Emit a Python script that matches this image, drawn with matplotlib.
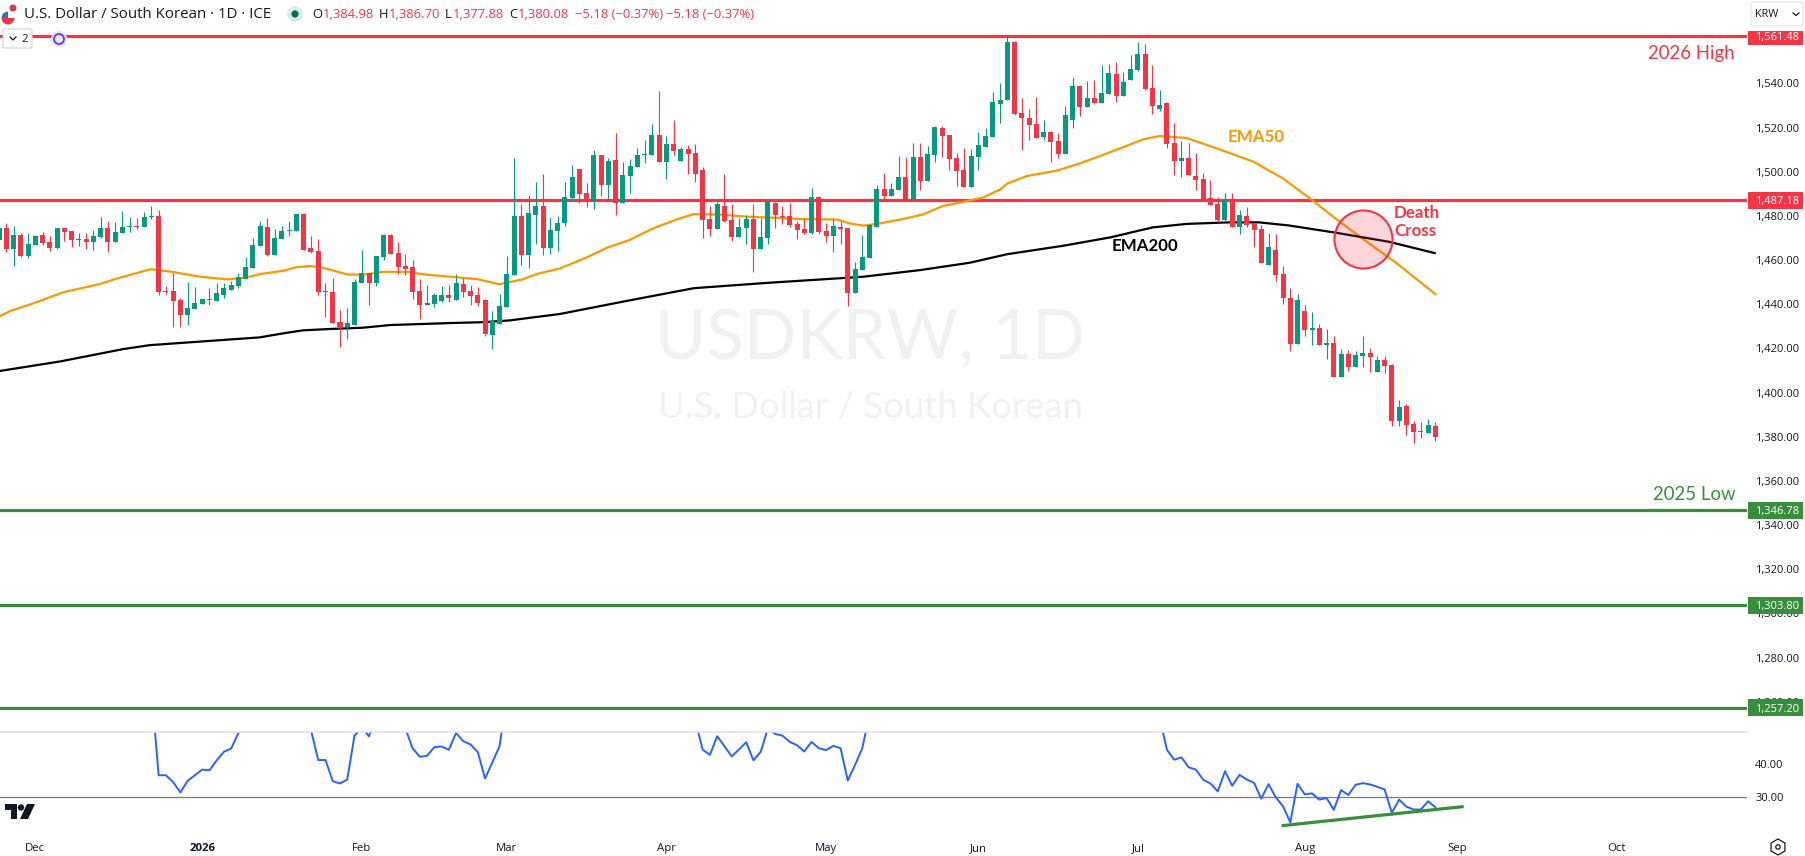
import numpy as np
import matplotlib
matplotlib.use('Agg')
import matplotlib.pyplot as plt
from matplotlib.patches import Circle, Rectangle, FancyBboxPatch, Polygon, Wedge

plt.rcParams['font.family'] = ['Open Sans', 'DejaVu Sans']

# Daily candles, one per session
opens = [1469.1,1474.7,1465.0,1471.3,1461.8,1466.8,1471.3,1468.2,1465.5,1474.5,
         1473.2,1469.1,1469.5,1468.2,1470.4,1474.5,1468.2,1472.2,1475.1,1475.4,
         1475.0,1479.5,1479.9,1446.0,1446.0,1441.9,1435.1,1437.8,1440.1,1442.3,
         1441.4,1444.2,1446.4,1448.2,1451.4,1456.4,1466.4,1475.0,1462.3,1469.5,
         1473.2,1473.2,1480.9,1465.5,1464.1,1446.0,1445.5,1431.9,1429.7,1430.6,
         1449.6,1454.1,1449.6,1461.4,1471.3,1463.2,1457.3,1456.8,1446.0,1439.6,
         1440.1,1441.4,1444.2,1441.9,1449.1,1446.0,1444.2,1441.9,1426.0,1431.0,
         1438.7,1453.2,1479.9,1462.3,1480.4,1484.5,1465.4,1473.2,1476.8,1488.1,
         1501.2,1490.4,1486.7,1507.6,1494.0,1505.3,1485.8,1498.1,1502.1,1507.6,
         1507.6,1516.6,1504.4,1512.5,1504.8,1510.3,1508.5,1500.8,1478.6,1474.1,
         1484.5,1478.1,1470.4,1474.5,1478.6,1465.0,1470.0,1485.8,1479.9,1479.9,
         1476.3,1474.1,1472.2,1488.5,1473.2,1470.9,1475.0,1474.5,1445.1,1455.5,
         1460.9,1474.9,1492.2,1489.0,1491.7,1497.6,1487.2,1506.7,1495.8,1507.6,
         1519.8,1516.6,1506.2,1500.8,1493.1,1506.7,1511.2,1515.7,1530.7,1532.5,
         1558.8,1526.6,1524.3,1521.6,1515.7,1518.0,1513.9,1508.0,1523.4,1538.8,
         1529.3,1533.4,1531.1,1535.2,1544.3,1534.3,1541.5,1546.1,1553.3,1537.9,
         1528.4,1531.1,1513.0,1504.8,1506.2,1498.1,1496.7,1488.1,1485.4,1478.1,
         1487.2,1475.0,1480.0,1476.8,1474.1,1457.8,1464.6,1453.7,1442.8,1422.0,
         1436.9,1428.3,1429.2,1421.5,1422.4,1407.0,1417.4,1411.5,1416.5,1417.9,
         1409.3,1414.7,1412.5,1387.1,1393.9,1385.7,1382.6,1381.7,1384.98]
highs = [1475.9,1476.8,1475.4,1472.4,1472.4,1471.3,1472.7,1470.9,1474.5,1474.5,
         1473.2,1472.2,1472.2,1473.6,1479.5,1477.7,1477.2,1482.2,1479.5,1479.0,
         1481.8,1484.5,1482.7,1448.2,1454.3,1442.8,1450.0,1447.8,1442.3,1447.3,
         1449.6,1449.6,1450.5,1454.1,1461.4,1470.0,1477.7,1479.0,1474.1,1475.4,
         1477.7,1480.9,1481.3,1470.9,1469.5,1449.6,1451.9,1437.4,1438.3,1451.4,
         1464.6,1454.1,1461.8,1471.8,1471.8,1468.2,1462.7,1460.0,1451.4,1448.7,
         1445.1,1448.2,1448.7,1453.7,1451.9,1448.7,1447.8,1442.4,1436.9,1444.6,
         1461.8,1506.2,1485.4,1489.5,1495.3,1499.0,1479.5,1479.9,1495.3,1503.0,
         1501.2,1494.9,1509.8,1507.6,1506.2,1517.5,1504.4,1505.8,1510.7,1514.4,
         1521.6,1536.6,1516.2,1523.4,1511.2,1512.1,1512.5,1502.1,1484.5,1486.3,
         1499.0,1485.4,1479.0,1480.4,1485.4,1479.0,1486.3,1486.3,1484.5,1485.8,
         1477.7,1478.6,1492.6,1489.0,1476.8,1478.6,1477.7,1474.5,1459.1,1471.3,
         1476.3,1494.0,1499.4,1494.9,1507.1,1506.7,1513.0,1513.0,1511.7,1520.7,
         1520.7,1516.6,1508.5,1510.7,1510.3,1518.0,1519.8,1536.1,1540.2,1561.5,
         1559.2,1533.4,1528.4,1533.8,1523.4,1518.4,1517.5,1529.8,1542.9,1538.8,
         1541.1,1541.5,1548.3,1548.8,1549.7,1545.2,1552.9,1558.8,1557.9,1548.3,
         1537.0,1531.6,1522.1,1513.9,1513.0,1508.5,1499.4,1496.3,1488.5,1490.4,
         1490.4,1482.7,1484.0,1476.8,1475.9,1472.3,1471.8,1457.3,1447.3,1444.6,
         1439.6,1436.5,1431.0,1428.8,1425.6,1419.7,1419.2,1418.8,1425.6,1420.2,
         1416.5,1416.5,1412.9,1396.6,1394.8,1387.1,1386.6,1388.0,1386.70]
lows = [1467.6,1463.8,1457.3,1461.4,1460.9,1466.8,1466.8,1464.1,1465.0,1468.6,
        1465.9,1466.4,1465.0,1464.6,1470.0,1463.6,1468.2,1472.2,1472.7,1474.1,
        1475.0,1478.6,1444.2,1444.6,1429.7,1429.7,1430.6,1437.8,1440.1,1439.6,
        1441.4,1442.8,1446.4,1447.3,1451.4,1456.4,1466.4,1461.8,1462.3,1469.5,
        1470.9,1473.2,1464.6,1463.2,1444.2,1434.2,1431.5,1420.6,1424.2,1430.6,
        1449.6,1439.6,1448.2,1460.0,1462.7,1453.7,1453.2,1442.3,1433.3,1439.6,
        1438.7,1441.0,1441.0,1441.9,1443.3,1439.6,1439.2,1425.6,1419.7,1431.0,
        1438.7,1453.2,1457.7,1456.4,1467.3,1462.3,1462.7,1464.1,1475.4,1486.7,
        1485.8,1484.0,1483.1,1489.0,1487.6,1480.4,1485.8,1490.4,1502.1,1504.0,
        1507.6,1504.4,1496.7,1507.6,1504.8,1498.9,1495.3,1470.0,1470.9,1474.1,
        1477.2,1468.6,1470.4,1467.3,1454.6,1465.0,1467.3,1474.5,1476.3,1475.0,
        1469.5,1471.8,1471.8,1471.8,1468.2,1463.6,1467.3,1439.2,1445.1,1455.5,
        1460.9,1474.9,1487.2,1489.0,1491.7,1487.2,1487.2,1491.7,1495.8,1504.4,
        1506.7,1500.8,1493.5,1493.1,1493.1,1500.8,1511.2,1515.7,1522.1,1532.5,
        1525.7,1509.8,1514.4,1515.3,1514.4,1504.4,1506.2,1508.0,1519.8,1525.2,
        1529.3,1530.7,1531.1,1535.2,1531.6,1534.3,1541.5,1545.6,1537.0,1526.1,
        1527.5,1510.7,1498.5,1497.6,1498.5,1491.7,1487.2,1484.9,1477.2,1477.2,
        1474.9,1471.8,1475.0,1465.9,1458.7,1457.8,1450.5,1440.1,1418.8,1422.0,
        1425.6,1421.5,1421.5,1415.2,1407.0,1407.0,1409.7,1411.5,1411.5,1409.3,
        1409.3,1408.8,1384.8,1384.8,1380.7,1377.1,1379.4,1381.7,1377.88]
closes = [1474.7,1465.0,1471.3,1461.8,1467.3,1470.9,1467.7,1465.5,1474.5,1472.7,
          1469.1,1469.5,1468.2,1470.9,1474.5,1468.2,1472.7,1475.0,1475.4,1475.0,
          1479.5,1479.9,1445.5,1445.5,1441.4,1435.1,1438.3,1440.5,1442.3,1441.9,
          1445.1,1447.3,1448.7,1452.3,1456.8,1466.8,1475.4,1462.3,1470.0,1473.2,
          1473.6,1480.9,1464.6,1463.6,1445.5,1445.5,1431.5,1429.7,1431.5,1450.0,
          1454.1,1449.6,1461.8,1471.3,1462.7,1456.8,1455.9,1445.5,1439.6,1440.5,
          1444.2,1444.2,1442.8,1449.6,1445.5,1443.7,1440.5,1426.5,1432.4,1439.2,
          1453.7,1479.9,1462.3,1481.3,1484.5,1465.4,1473.6,1476.8,1488.5,1497.6,
          1489.9,1487.2,1507.6,1494.0,1504.8,1485.8,1498.5,1502.6,1507.6,1508.0,
          1516.6,1504.4,1512.5,1509.4,1510.3,1508.0,1498.9,1478.1,1474.1,1485.4,
          1477.7,1470.4,1475.0,1478.6,1465.0,1470.4,1486.3,1480.4,1479.5,1475.9,
          1473.6,1472.2,1488.5,1472.7,1470.9,1475.4,1474.1,1445.1,1455.9,1461.4,
          1475.9,1492.2,1489.0,1492.2,1497.6,1487.2,1506.7,1495.8,1508.0,1520.2,
          1516.2,1505.8,1500.3,1493.1,1507.1,1512.1,1516.2,1531.6,1532.5,1558.8,
          1526.1,1524.3,1521.2,1515.3,1518.0,1513.5,1508.0,1525.7,1538.8,1529.3,
          1533.4,1531.1,1535.6,1544.7,1534.3,1540.6,1546.5,1553.3,1537.5,1529.8,
          1530.2,1512.6,1504.8,1506.2,1498.5,1496.3,1487.2,1484.9,1478.1,1487.2,
          1474.9,1480.4,1475.9,1473.6,1458.7,1465.9,1453.2,1442.8,1422.0,1441.9,
          1428.3,1429.2,1421.5,1422.4,1407.0,1417.4,1411.5,1417.0,1417.9,1416.1,
          1414.7,1412.0,1387.1,1393.4,1385.3,1382.1,1382.1,1385.3,1380.08]

# Moving averages read at session numbers
ema50_day = [0.1,1.5,4.7,8.8,13.9,16.3,20.9,24,27.7,31.4,33.9,36,39.2,41,42.9,44.7,48,50.3,
             52.9,56.2,59,62.2,65.9,69,72.2,74.1,77.3,81,83.8,86.9,90.1,93.4,95.7,99,103.5,
             106.7,110.4,115.5,117.3,119.2,121.4,124.6,127.4,130.1,132.9,135.7,138,139,141.7,
             145.8,149,152.7,155.4,157.7,160,163.7,168.3,172.9,177,181.2,184.4,187.6,192.7,198]
ema50 = [1434.6,1436.9,1440.4,1445.4,1449.2,1451.7,1455.9,1454.6,1452.5,1451.3,1452.0,1453.7,
         1455.2,1456.8,1457.3,1456.5,1453.5,1453.4,1454.7,1454.7,1453.4,1452.5,1451.4,1449.1,
         1451.3,1453.7,1456.2,1461.2,1465.6,1469.1,1474.3,1478.4,1480.8,1480.7,1479.6,1479.2,
         1478.6,1478.4,1476.6,1475.6,1476.6,1478.6,1480.7,1484.5,1486.4,1488.4,1492.0,1494.7,
         1498.1,1500.5,1503.8,1508.3,1511.7,1514.7,1516.2,1515.3,1510.1,1504.6,1497.0,1486.7,
         1478.4,1470.6,1458.5,1444.6]
ema200_day = [0.1,8.4,17.1,20.8,35.9,39.1,41.9,45.6,50.2,53.9,56.7,62.2,66.7,70.4,77.3,86.8,95.8,
              105.9,116.9,119.2,127,133.8,139,146.7,153.2,159,163.7,169.6,173.7,177.8,184.3,191.6,197.9]
ema200 = [1409.8,1414.1,1419.7,1421.5,1425.0,1426.8,1428.2,1428.8,1429.4,1430.6,1430.9,1431.5,
          1431.9,1432.7,1435.6,1441.7,1447.3,1449.7,1452.0,1452.5,1455.5,1458.8,1462.7,1466.5,
          1470.3,1474.8,1476.4,1477.1,1477.1,1475.7,1472.4,1468.3,1463.2]

# RSI stretches, hidden values above the pane are estimates
rsi_starts = [21, 42, 56, 96, 160]
rsi_runs = [
    [62.8,36.6,36.6,34.5,31.4,34.9,36.6,38.3,38.1,41.1,43.7,44.7,49.4,54.0],
    [58.0,50.3,41.2,41.2,34.8,34.1,35.3,48.6,51.0,48.4,55.0],
    [50.9,44.8,42.2,42.5,45.1,45.3,44.3,49.4,46.9,45.9,43.6,35.6,40.5,45.4,60.5],
    [53.0,44.3,42.8,48.4,45.4,42.3,44.4,46.6,41.1,43.7,50.9,49.1,48.6,46.7,45.7,43.8,46.7,44.8,
     44.2,45.5,44.8,35.0,39.7,44.8,55.0],
    [54.0,44.3,41.3,42.0,39.0,38.3,35.2,34.1,31.7,37.8,33.4,36.7,35.3,34.3,29.5,33.9,29.9,27.2,
     22.3,34.0,30.8,31.1,29.2,29.7,26.1,32.1,30.6,33.7,34.2,33.8,33.1,32.3,25.2,29.2,27.1,26.2,
     26.2,28.7,26.9],
]
trend_day = [176.8, 201.9]
trend_rsi = [21.3, 27.1]

# Levels and labels
red_levels = [1561.48, 1487.18]
green_levels = [1346.78, 1303.80, 1257.20]
price_ticks = [1260 + 20 * k for k in range(16)]
rsi_ticks = [30, 40]
month_days = [5, 28, 50, 70, 92, 114, 135, 157, 180, 201, 223]
month_labels = ['Dec', '2026', 'Feb', 'Mar', 'Apr', 'May', 'Jun', 'Jul', 'Aug', 'Sep', 'Oct']

GREEN = '#089981'
RED = '#f23645'
LEVEL_GREEN = '#388e3c'
ORANGE = '#ff9800'
INK = '#131722'
W, H = 1805, 856
MAIN_BOTTOM, PANE_BOTTOM, AXIS_RIGHT = 732, 832, 1747

fig = plt.figure(figsize=(W / 100, H / 100), dpi=100, facecolor='white')
ax = fig.add_axes([0, (H - MAIN_BOTTOM) / H, AXIS_RIGHT / W, MAIN_BOTTOM / H])
rsi_ax = fig.add_axes([0, (H - PANE_BOTTOM) / H, AXIS_RIGHT / W, (PANE_BOTTOM - MAIN_BOTTOM) / H])

for a in (ax, rsi_ax):
    a.set_xlim(0.13, 240.96)
    for s in a.spines.values():
        s.set_visible(False)
    a.yaxis.tick_right()
    a.tick_params(axis='y', length=0, pad=5.8, labelsize=8.0, labelcolor=INK)

ax.set_ylim(1246.3, 1577.8)
ax.set_xticks([])
ax.set_yticks(price_ticks)
ax.set_yticklabels([f'{v:,.2f}' for v in price_ticks])

# Watermark
fig.text(870 / W, 1 - 339 / H, 'USDKRW, 1D', color='#f1f1f1', fontsize=50, ha='center', va='center',
         zorder=0.5, fontfamily='Lato')
fig.text(870 / W, 1 - 407 / H, 'U.S. Dollar / South Korean', color='#f1f1f1', fontsize=26.3, ha='center',
         va='center', zorder=0.5, fontfamily='Lato')
ax.patch.set_alpha(0)
rsi_ax.patch.set_alpha(0)

# Levels
for lvl in red_levels:
    ax.axhline(lvl, color=RED, lw=2.3, zorder=2)
for lvl in green_levels:
    ax.axhline(lvl, color=LEVEL_GREEN, lw=2.3, zorder=2)

# Moving averages
ax.plot(ema50_day, ema50, color=ORANGE, lw=1.6, zorder=3)
ax.plot(ema200_day, ema200, color='black', lw=1.6, zorder=3)

# Candles
days = np.arange(len(closes))
o, h, l, c = map(np.array, (opens, highs, lows, closes))
colors = np.where(c >= o, GREEN, RED)
ax.vlines(days, l, h, colors=colors, lw=0.8, zorder=4)
ax.bar(days, np.maximum(np.abs(c - o), 0.45), bottom=np.minimum(o, c), width=0.69, color=colors, lw=0, zorder=5)

# Death cross marker
ax.plot([188], [1469.4], 'o', ms=41.8, mfc=(0.949, 0.212, 0.271, 0.2), mec=RED, mew=1.5, zorder=6)

# Price labels on the scale
ytrans = ax.get_yaxis_transform()
px = 1 / (MAIN_BOTTOM / (1577.8 - 1246.3))
box_w = (1802 - AXIS_RIGHT) / AXIS_RIGHT
for lvl, col in [(v, RED) for v in red_levels] + [(v, LEVEL_GREEN) for v in green_levels]:
    up = 5 if lvl == red_levels[0] else 8.5
    dn = 9 if lvl == red_levels[0] else 8.5
    ax.add_patch(Rectangle((1.0003, lvl - dn * px), box_w, (up + dn) * px, transform=ytrans, color=col,
                           clip_on=False, lw=0, zorder=7))
    ax.text(1.0046, lvl, f'{lvl:,.2f}', transform=ytrans, color='white', fontsize=8.0, va='center_baseline',
            clip_on=False, zorder=8)

# RSI pane
rsi_ax.set_ylim(19.39, 49.7)
rsi_ax.set_yticks(rsi_ticks)
rsi_ax.set_yticklabels([f'{v:.2f}' for v in rsi_ticks])
rsi_ax.axhline(30, color='#787b86', lw=0.9, zorder=1)
for start, run in zip(rsi_starts, rsi_runs):
    rsi_ax.plot(np.arange(start, start + len(run)), run, color='#2962ff', lw=1.4, zorder=3)
rsi_ax.plot(trend_day, trend_rsi, color=LEVEL_GREEN, lw=2.3, zorder=4, solid_capstyle='butt')
rsi_ax.set_xticks(month_days)
rsi_ax.set_xticklabels(month_labels)
rsi_ax.tick_params(axis='x', length=0, pad=8, labelsize=8.2, labelcolor=INK)
rsi_ax.get_xticklabels()[1].set_fontweight('bold')

# Overlay in pixels for the annotations and the app chrome
ov = fig.add_axes([0, 0, 1, 1], zorder=10)
ov.set_xlim(0, W)
ov.set_ylim(H, 0)
ov.axis('off')
ov.patch.set_alpha(0)

ov.plot([0, AXIS_RIGHT], [732, 732], color='#e0e3eb', lw=1.1)

ov.text(1735, 53, '2026 High', color=RED, fontsize=13.4, ha='right', va='center', fontfamily='Lato')
ov.text(1736, 494, '2025 Low', color=LEVEL_GREEN, fontsize=13.4, ha='right', va='center', fontfamily='Lato')
ov.text(1228, 137, 'EMA50', color=ORANGE, fontsize=12.2, va='center', fontfamily='Lato', fontweight='bold')
ov.text(1112, 246, 'EMA200', color='black', fontsize=12.2, va='center', fontfamily='Lato', fontweight='bold')
ov.text(1394, 213, 'Death', color=RED, fontsize=12.2, va='center', fontfamily='Lato', fontweight='bold')
ov.text(1394, 231, 'Cross', color=RED, fontsize=12.2, va='center', fontfamily='Lato', fontweight='bold')

# Header line
ov.text(24, 14, 'U.S. Dollar / South Korean · 1D · ICE', color=INK, fontsize=10.8, va='center')
ov.add_patch(Circle((295, 14), 8, color='#d6eee9', lw=0))
ov.add_patch(Circle((295, 14), 3.6, color='#0b6b5b', lw=0))
for x, s, col in [(312, 'O', INK), (323, '1,384.98', RED), (379, 'H', INK), (389, '1,386.70', RED),
                  (445, 'L', INK), (453, '1,377.88', RED), (509, 'C', INK), (518, '1,380.08', RED),
                  (575, '−5.18 (−0.37%)', RED), (666, '−5.18 (−0.37%)', RED)]:
    ov.text(x, 14, s, color=col, fontsize=9.4, va='center')

# Flag icon
ov.add_patch(Circle((8, 18), 6.5, color='white', lw=0))
ov.add_patch(Wedge((8, 18), 6.5, 0, 180, color='#e8394a', lw=0))
ov.add_patch(Wedge((8, 18), 6.5, 180, 270, color='#2f6fd0', lw=0))
ov.add_patch(Circle((13, 8), 3.5, color='#c9414f', lw=0))

# Legend toggle and sync icon
ov.add_patch(FancyBboxPatch((3, 29), 29, 19, boxstyle='round,pad=0,rounding_size=2', fc='white', ec='#d1d4dc', lw=0.8))
ov.plot([10, 13, 16], [37, 40, 37], color=INK, lw=0.9)
ov.text(25, 39, '2', color=INK, fontsize=8.2, ha='center', va='center')
ov.add_patch(Circle((59, 39), 8, color='#e9e4fb', lw=0))
ov.add_patch(Circle((59, 39), 5, fc='none', ec='#5b3df5', lw=1.3))

# Currency button
ov.add_patch(FancyBboxPatch((1751, 2), 52, 24, boxstyle='round,pad=0,rounding_size=3', fc='white', ec='#e0e3eb', lw=0.8))
ov.text(1755, 14, 'KRW', color=INK, fontsize=7.8, va='center')
ov.plot([1793, 1796, 1799], [13, 15.5, 13], color=INK, lw=0.9)

# TradingView logo
ov.add_patch(Polygon([(5, 804), (17, 804), (17, 819), (11, 819), (11, 810), (5, 810)], color=INK, lw=0))
ov.add_patch(Circle((21, 807.5), 3.2, color=INK, lw=0))
ov.add_patch(Polygon([(27, 804), (35, 804), (28, 819), (20, 819)], color=INK, lw=0))

# Settings hexagon
hx = [(1778 + 8 * np.sin(t), 847 + 8 * np.cos(t)) for t in np.arange(6) * np.pi / 3]
ov.add_patch(Polygon(hx, fc='white', ec=INK, lw=0.9))
ov.add_patch(Circle((1778, 847), 2.2, fc='white', ec=INK, lw=0.9))

fig.savefig('out.png', dpi=100)
